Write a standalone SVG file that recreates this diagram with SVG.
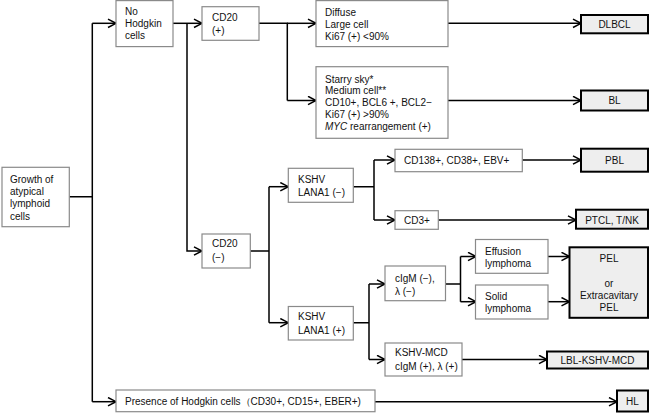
<svg xmlns="http://www.w3.org/2000/svg" width="650" height="413" viewBox="0 0 650 413">
<defs>
<marker id="arr" markerUnits="userSpaceOnUse" markerWidth="12" markerHeight="12" refX="9" refY="5" orient="auto">
<path d="M1,0.8 L9,5 L1,9.2" fill="none" stroke="#000" stroke-width="1.5"/>
</marker>
<style>
.b{fill:#fff;stroke:#8a8a8a;stroke-width:1.2}
.t{fill:#eeeeee;stroke:#000;stroke-width:2}
text{font-family:"Liberation Sans",Arial,sans-serif;font-size:10px;fill:#111}
.c{text-anchor:middle}
.e{fill:none;stroke:#000;stroke-width:1.5}
.a{marker-end:url(#arr)}
</style>
</defs>
<rect width="650" height="413" fill="#fff"/>
<g id="connectors">
<path class="e" d="M69.3,196.7 H92.3 M92.3,23.3 V401.7"/>
<path class="e a" d="M92.3,23.3 H116"/>
<path class="e a" d="M92.3,401.7 H116"/>
<path class="e a" d="M173,23.3 H202"/>
<path class="e a" d="M187,23.3 V251 H202"/>
<path class="e" d="M259,23.3 H287.3 V100.5"/>
<path class="e a" d="M287.3,23.3 H316"/>
<path class="e a" d="M287.3,100.5 H316"/>
<path class="e a" d="M448,23.3 H581"/>
<path class="e a" d="M448,100.5 H581"/>
<path class="e" d="M250.3,251 H269 M269,186.7 V322.7"/>
<path class="e a" d="M269,186.7 H288.3"/>
<path class="e a" d="M269,322.7 H288.3"/>
<path class="e" d="M353.3,186.7 H374 M374,160 V220"/>
<path class="e a" d="M374,160 H395"/>
<path class="e a" d="M374,220 H395"/>
<path class="e a" d="M522.3,160 H581"/>
<path class="e a" d="M438.3,220 H576"/>
<path class="e" d="M353.3,322.7 H369 M369,284 V359.5"/>
<path class="e a" d="M369,284 H385"/>
<path class="e a" d="M369,359.5 H385"/>
<path class="e" d="M445.5,284 H460.5 M460.5,256.5 V301.7"/>
<path class="e a" d="M460.5,256.5 H476"/>
<path class="e a" d="M460.5,301.7 H476"/>
<path class="e a" d="M548,256.5 H569.5"/>
<path class="e a" d="M548,301.7 H569.5"/>
<path class="e a" d="M462,359.5 H547"/>
<path class="e a" d="M375,401.7 H617"/>
</g>
<g id="growth"><rect class="b" x="2" y="167.3" width="67.3" height="59.4"/>
<text x="10" y="183">Growth of</text><text x="10" y="195">atypical</text><text x="10" y="207.2">lymphoid</text><text x="10" y="219.5">cells</text></g>
<g id="nohodgkin"><rect class="b" x="116" y="0.6" width="57" height="46"/>
<text x="125" y="15">No</text><text x="125" y="27.3">Hodgkin</text><text x="125" y="39.3">cells</text></g>
<g id="cd20pos"><rect class="b" x="202" y="6.7" width="57" height="33.6"/>
<text x="212" y="20.8">CD20</text><text x="212" y="34">(+)</text></g>
<g id="diffuse"><rect class="b" x="316" y="0.6" width="132" height="46"/>
<text x="325" y="15.5">Diffuse</text><text x="325" y="27.5">Large cell</text><text x="325" y="39.5">Ki67 (+) &lt;90%</text></g>
<g id="starry"><rect class="b" x="316" y="66.7" width="132" height="71.6"/>
<text x="325" y="82.5">Starry sky*</text><text x="325" y="94.2">Medium cell**</text><text x="325" y="105.9">CD10+, BCL6 +, BCL2−</text><text x="325" y="117.6">Ki67 (+) &gt;90%</text><text x="325" y="129.5"><tspan font-style="italic">MYC</tspan> rearrangement (+)</text></g>
<g id="dlbcl"><rect class="t" x="581" y="15" width="67" height="18.3"/><text class="c" x="614.5" y="27.5">DLBCL</text></g>
<g id="bl"><rect class="t" x="581" y="90.5" width="67" height="20"/><text class="c" x="614.5" y="104">BL</text></g>
<g id="cd20neg"><rect class="b" x="202" y="234" width="48.3" height="34"/>
<text x="212" y="247">CD20</text><text x="212" y="261">(−)</text></g>
<g id="kshvneg"><rect class="b" x="288.3" y="168.3" width="65" height="34"/>
<text x="298" y="183">KSHV</text><text x="298" y="195.5">LANA1 (−)</text></g>
<g id="cd138"><rect class="b" x="395" y="149.3" width="127.3" height="22.4"/><text x="404" y="163.8">CD138+, CD38+, EBV+</text></g>
<g id="pbl"><rect class="t" x="581" y="148.7" width="67" height="23"/><text class="c" x="614.5" y="163.8">PBL</text></g>
<g id="cd3"><rect class="b" x="395" y="210.7" width="43.3" height="18.6"/><text x="404" y="223.6">CD3+</text></g>
<g id="ptcl"><rect class="t" x="576" y="209.7" width="72" height="19"/><text class="c" x="612" y="223.6">PTCL, T/NK</text></g>
<g id="kshvpos"><rect class="b" x="288.3" y="306.5" width="65" height="33.5"/>
<text x="298" y="320.3">KSHV</text><text x="298" y="334.3">LANA1 (+)</text></g>
<g id="cigm"><rect class="b" x="385" y="266" width="60.5" height="34.7"/>
<text x="395" y="282.3">cIgM (−),</text><text x="395" y="295">λ (−)</text></g>
<g id="effusion"><rect class="b" x="475.5" y="239.5" width="72.5" height="33.8"/>
<text x="485" y="255.2">Effusion</text><text x="485" y="267">lymphoma</text></g>
<g id="solid"><rect class="b" x="475.5" y="285" width="72.5" height="34"/>
<text x="485" y="299.6">Solid</text><text x="485" y="312">lymphoma</text></g>
<g id="pel"><rect class="t" x="569.5" y="247.3" width="78.5" height="70.5"/>
<text class="c" x="609" y="262">PEL</text><text class="c" x="609" y="287">or</text><text class="c" x="609" y="298.8">Extracavitary</text><text class="c" x="609" y="311">PEL</text></g>
<g id="kshvmcd"><rect class="b" x="385" y="343" width="77" height="33"/>
<text x="395" y="355.5">KSHV-MCD</text><text x="395" y="370">cIgM (+), λ (+)</text></g>
<g id="lbl"><rect class="t" x="547" y="351.5" width="101" height="17"/><text class="c" x="597.5" y="363.6">LBL-KSHV-MCD</text></g>
<g id="presence"><rect class="b" x="116" y="390" width="259" height="21.7"/><text x="125" y="405">Presence of Hodgkin cells（CD30+, CD15+, EBER+)</text></g>
<g id="hl"><rect class="t" x="617" y="390.5" width="31" height="21"/><text class="c" x="632.5" y="405">HL</text></g>
</svg>
